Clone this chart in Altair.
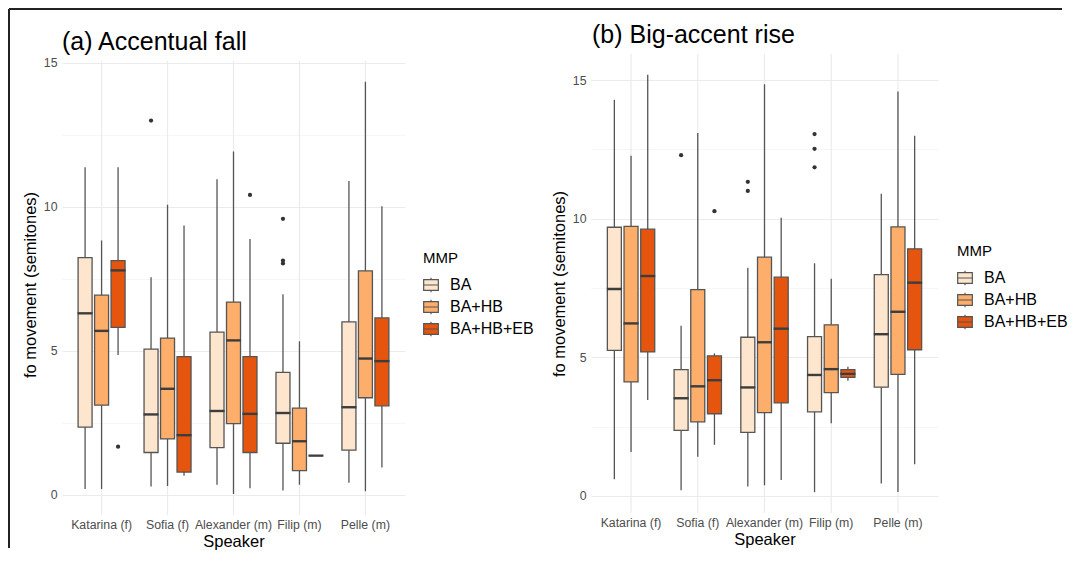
import altair as alt
import pandas as pd

FONT = "Liberation Sans"

SPEAKERS = ["Katarina (f)", "Sofia (f)", "Alexander (m)", "Filip (m)", "Pelle (m)"]
MMP = ["BA", "BA+HB", "BA+HB+EB"]
COLORS = ["#FEE6CE", "#FDAE6B", "#E6550D"]
Y_TICKS = [0, 2.5, 5, 7.5, 10, 12.5, 15]

TITLE_A = "(a) Accentual fall"
TITLE_B = "(b) Big-accent rise"

# ---- Panel (a): order = BA x 5 speakers, BA+HB x 5, BA+HB+EB x 5
A_LO  = [0.20, 0.29, 0.35, 0.15, 0.42,  0.20, 0.31, 0.03, 0.35, 0.12,  4.85, 0.66, 0.23, 1.36, 0.95]
A_Q1  = [2.35, 1.47, 1.64, 1.79, 1.55,  3.11, 1.94, 2.47, 0.84, 3.37,  5.81, 0.79, 1.47, 1.36, 3.09]
A_MED = [6.30, 2.79, 2.91, 2.84, 3.04,  5.69, 3.68, 5.36, 1.86, 4.73,  7.79, 2.07, 2.81, 1.36, 4.64]
A_Q3  = [8.23, 5.06, 5.65, 4.25, 6.00,  6.93, 5.44, 6.69, 3.01, 7.77,  8.13, 4.80, 4.80, 1.36, 6.14]
A_HI  = [11.37, 7.55, 10.95, 6.96, 10.89, 8.83, 10.07, 11.92, 5.33, 14.34, 11.37, 9.35, 8.88, 1.36, 10.02]
A_OUT_SPEAKER = ["Sofia (f)", "Filip (m)", "Filip (m)", "Filip (m)", "Katarina (f)", "Alexander (m)"]
A_OUT_MMP     = ["BA", "BA", "BA", "BA", "BA+HB+EB", "BA+HB+EB"]
A_OUT_VALUE   = [12.99, 9.58, 8.13, 8.03, 1.67, 10.41]

# ---- Panel (b)
B_LO  = [0.60, 0.20, 0.34, 0.13, 0.44,  1.58, 1.41, 0.38, 2.62, 0.14,  3.46, 1.84, 0.57, 4.15, 1.14]
B_Q1  = [5.25, 2.36, 2.29, 3.03, 3.92,  4.11, 2.67, 3.00, 3.72, 4.38,  5.19, 2.96, 3.35, 4.27, 5.27]
B_MED = [7.46, 3.52, 3.91, 4.36, 5.83,  6.22, 3.95, 5.54, 4.57, 6.64,  7.93, 4.17, 6.03, 4.40, 7.69]
B_Q3  = [9.69, 4.55, 5.72, 5.74, 7.98,  9.72, 7.44, 8.61, 6.17, 9.70,  9.62, 5.05, 7.89, 4.55, 8.91]
B_HI  = [14.29, 6.14, 8.23, 8.39, 10.90, 12.27, 13.09, 14.85, 7.83, 14.59, 15.19, 5.14, 10.03, 4.66, 12.99]
B_OUT_SPEAKER = ["Sofia (f)", "Alexander (m)", "Alexander (m)", "Filip (m)", "Filip (m)", "Filip (m)", "Sofia (f)"]
B_OUT_MMP     = ["BA", "BA", "BA", "BA", "BA", "BA", "BA+HB+EB"]
B_OUT_VALUE   = [12.29, 11.33, 11.00, 13.05, 12.52, 11.85, 10.27]

SYMBOL = "M-1,-0.72H1V0.72H-1Z M-1,0H1 M0,-0.72V-1 M0,0.72V1"


def box_table(lo, q1, med, q3, hi):
    rows = []
    for i, m in enumerate(MMP):
        for j, s in enumerate(SPEAKERS):
            k = i * len(SPEAKERS) + j
            rows.append({"Speaker": s, "MMP": m, "lo": lo[k], "q1": q1[k],
                         "med": med[k], "q3": q3[k], "hi": hi[k]})
    return pd.DataFrame(rows)


def panel(title, boxes, outliers, domain, width, height, grid_top, frame, title_xy, legend_xy):
    x_enc = alt.X("Speaker:N", sort=SPEAKERS,
                  scale=alt.Scale(domain=SPEAKERS, paddingInner=0.25, paddingOuter=0.225),
                  axis=alt.Axis(title="Speaker", labelAngle=0, labelOverlap=False, grid=False))
    xo_enc = alt.XOffset("MMP:N", sort=MMP,
                         scale=alt.Scale(domain=MMP, paddingInner=0, paddingOuter=0))
    y_scale = alt.Scale(domain=domain, nice=False, zero=False)
    y_axis = alt.Axis(values=Y_TICKS,
                      labelExpr="datum.value % 5 === 0 ? format(datum.value, 'd') : ''",
                      gridColor={"condition": {"test": "datum.value % 5 === 0", "value": "#EBEBEB"},
                                 "value": "#F4F4F4"},
                      gridWidth={"condition": {"test": "datum.value % 5 === 0", "value": 1.2},
                                 "value": 0.8})
    ytitle = "fo movement (semitones)"

    one = pd.DataFrame({"k": [0]})
    fx, fy, fx_end, fy_end = frame
    layers = []
    # vertical grid lines at the speaker positions
    layers.append(alt.Chart(pd.DataFrame({"Speaker": SPEAKERS})).mark_rule(
        color="#EBEBEB", strokeWidth=1.2).encode(
        x=x_enc, y=alt.value(grid_top), y2=alt.value(height)))
    if fy_end is not None:
        layers.append(alt.Chart(one).mark_rule(color="#222222", strokeWidth=2).encode(
            x=alt.value(fx), y=alt.value(fy), y2=alt.value(fy_end)))
    layers.append(alt.Chart(one).mark_rule(color="#222222", strokeWidth=2).encode(
        y=alt.value(fy), x=alt.value(fx), x2=alt.value(fx_end)))
    layers.append(alt.Chart(pd.DataFrame({"t": [title]})).mark_text(
        align="left", baseline="alphabetic", fontSize=25, font=FONT, color="black").encode(
        text="t:N", x=alt.value(title_xy[0]), y=alt.value(title_xy[1])))

    whisk = alt.Chart(boxes).mark_rule(color="#555555", strokeWidth=1.3).encode(
        x=x_enc, xOffset=xo_enc,
        y=alt.Y("lo:Q", scale=y_scale, axis=y_axis, title=ytitle),
        y2="hi:Q")
    bars = alt.Chart(boxes).mark_bar(width=14, stroke="#555555", strokeWidth=1.3).encode(
        x=x_enc, xOffset=xo_enc,
        y=alt.Y("q1:Q", scale=y_scale, axis=y_axis, title=ytitle),
        y2="q3:Q",
        fill=alt.Fill("MMP:N", scale=alt.Scale(domain=MMP, range=COLORS),
                      legend=alt.Legend(title="MMP", orient="none",
                                        legendX=legend_xy[0], legendY=legend_xy[1],
                                        symbolType=SYMBOL, symbolSize=215,
                                        symbolStrokeColor="#555555", symbolStrokeWidth=1.2,
                                        titleFontSize=15, titleFontWeight="normal",
                                        titleColor="black", labelColor="black",
                                        labelFontSize=16, labelOffset=11,
                                        rowPadding=2, titlePadding=11, padding=0)))
    meds = alt.Chart(boxes).mark_tick(size=15, thickness=2.4, color="#3d3d3d", opacity=1).encode(
        x=x_enc, xOffset=xo_enc,
        y=alt.Y("med:Q", scale=y_scale, axis=y_axis, title=ytitle))
    pts = alt.Chart(outliers).mark_circle(size=18, color="#333333", opacity=1).encode(
        x=x_enc, xOffset=xo_enc,
        y=alt.Y("value:Q", scale=y_scale, axis=y_axis, title=ytitle))
    layers += [whisk, bars, meds, pts]
    return alt.layer(*layers).properties(width=width, height=height)


box_a = box_table(A_LO, A_Q1, A_MED, A_Q3, A_HI)
box_b = box_table(B_LO, B_Q1, B_MED, B_Q3, B_HI)
out_a = pd.DataFrame({"Speaker": A_OUT_SPEAKER, "MMP": A_OUT_MMP, "value": A_OUT_VALUE})
out_b = pd.DataFrame({"Speaker": B_OUT_SPEAKER, "MMP": B_OUT_MMP, "value": B_OUT_VALUE})

# both plot areas start at the same height; panel (a) keeps its grid below its real top
pa = panel(TITLE_A, box_a, out_a, [-0.70, 15.30], 343, 461, grid_top=7,
           frame=(-53, -45, 480, 494), title_xy=(0, -4), legend_xy=(361, 197))
pb = panel(TITLE_B, box_b, out_b, [-0.62, 15.94], 347, 459, grid_top=0,
           frame=(-49, -45, 471, None), title_xy=(1, -11), legend_xy=(366, 190))

chart = alt.hconcat(pa, pb, spacing=-2).resolve_scale(
    x="independent", y="independent", xOffset="independent", fill="independent"
).resolve_legend(fill="independent").properties(padding=0).configure(
    font=FONT, background="white"
).configure_view(stroke=None).configure_axis(
    domain=False, ticks=False,
    labelFont=FONT, labelFontSize=12.3, labelColor="#4D4D4D",
    titleFont=FONT, titleFontSize=16.5, titleColor="black", titleFontWeight="normal",
).configure_axisX(labelPadding=3, titlePadding=3).configure_axisY(
    labelPadding=5, titlePadding=5
).configure_legend(labelFont=FONT, titleFont=FONT)

chart.save("out.html", embed_options={"renderer": "svg", "actions": False})
